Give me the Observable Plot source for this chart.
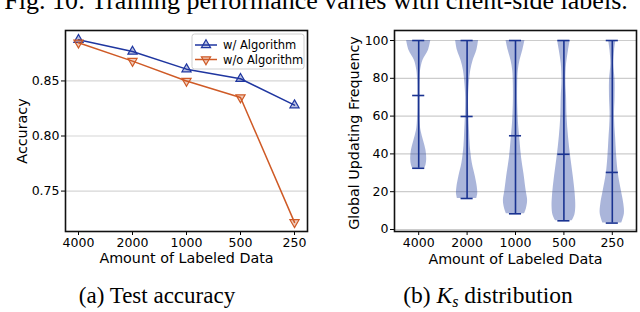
<!DOCTYPE html>
<html><head><meta charset="utf-8">
<script src="https://cdn.jsdelivr.net/npm/d3@7"></script>
<script src="https://cdn.jsdelivr.net/npm/@observablehq/plot@0.6"></script>
<style>
html,body{margin:0;padding:0;background:#fff;width:640px;height:312px;overflow:hidden}
#wrap{position:relative;width:640px;height:312px}
#left{position:absolute;left:0;top:0}
#right{position:absolute;left:320px;top:0}
#cap{position:absolute;left:0;top:0;pointer-events:none}
</style></head>
<body><div id="wrap"><div id="left"></div><div id="right"></div><svg id="cap" width="640" height="312"></svg></div>
<script>
// ---------- data ----------
const sizes = ["4000", "2000", "1000", "500", "250"];
const seriesNames = ["w/ Algorithm", "w/o Algorithm"];
const accWith = [0.8874, 0.8767, 0.8607, 0.852, 0.828];
const accWithout = [0.8847, 0.868, 0.850, 0.835, 0.7216];
const accTicks = [0.75, 0.80, 0.85];

const freqMax = [100, 100, 100, 100, 100];
const freqMin = [32.4, 16.4, 8.3, 4.6, 3.4];
const freqMean = [70.9, 59.8, 49.6, 39.8, 30.2];
const freqTicks = [0, 20, 40, 60, 80, 100];
// violin outlines: [value, relative half-width]
const violin4000 = [[100,1.0],[94.7,0.8],[89.4,0.35],[84,0.15],[80,0.1],[72,0.08],[64,0.08],[56,0.12],[52,0.2],[47,0.4],[42,0.6],[37,0.66],[34,0.6],[32.4,0.5]];
const violin2000 = [[100,0.95],[94.7,0.8],[89.4,0.5],[84,0.3],[77,0.18],[70,0.12],[60,0.14],[52,0.2],[44,0.26],[35,0.43],[28,0.68],[22.5,0.84],[19,0.88],[16.4,0.8]];
const violin1000 = [[100,0.78],[94.7,0.6],[89.4,0.37],[84,0.23],[77,0.18],[66.5,0.18],[56,0.25],[47,0.37],[38,0.5],[29.4,0.7],[20.5,0.88],[15.3,1.0],[11,0.9],[8.3,0.75]];
const violin500 = [[100,0.52],[94.7,0.38],[87.7,0.22],[78.8,0.16],[70,0.22],[59.5,0.26],[49,0.38],[38,0.57],[27.8,0.78],[19,0.93],[12,0.98],[7.6,0.9],[4.6,0.68]];
const violin250 = [[100,0.3],[94.7,0.19],[87.7,0.12],[78.8,0.23],[70,0.23],[59.5,0.18],[49,0.27],[38,0.37],[29.4,0.5],[20.5,0.75],[13.5,0.95],[8.3,1.0],[3.4,0.78]];
const violins = [violin4000, violin2000, violin1000, violin500, violin250];

// ---------- styles ----------
const blue = "#1f36a0", orange = "#cf5a26", vBlue = "#1a3391";
const font = "'DejaVu Sans', sans-serif";
const baseStyle = {fontFamily: font, fontSize: "12.5px", color: "#000", background: "transparent", overflow: "visible"};

const triDown = {draw(context, size) {
  const y = -Math.sqrt(size / (Math.sqrt(3) * 3));
  context.moveTo(0, -y * 2);
  context.lineTo(-Math.sqrt(3) * y, y);
  context.lineTo(Math.sqrt(3) * y, y);
  context.closePath();
}};

// ---------- left chart ----------
const accRows1 = sizes.map((s, i) => ({size: s, acc: accWith[i]}));
const accRows2 = sizes.map((s, i) => ({size: s, acc: accWithout[i]}));

const left = Plot.plot({
  width: 320, height: 270,
  marginLeft: 65, marginRight: 13, marginTop: 30, marginBottom: 39,
  style: baseStyle,
  x: {type: "point", domain: sizes, padding: 0.2},
  y: {domain: [0.7133, 0.8958]},
  marks: [
    Plot.gridY(accTicks, {stroke: "#d6d6d6", strokeOpacity: 1, strokeWidth: 1.2}),
    Plot.axisY({ticks: accTicks, tickFormat: d3.format(".2f"), tickSize: 4, tickPadding: 2, label: null, fontSize: 12.5}),
    Plot.axisX({tickSize: 4, tickPadding: 3, label: null, fontSize: 12.5}),
    Plot.line(accRows1, {x: "size", y: "acc", stroke: blue, strokeWidth: 1.5}),
    Plot.dot(accRows1, {x: "size", y: "acc", symbol: "triangle", r: 3.4, stroke: blue, strokeWidth: 1.2, fill: blue, fillOpacity: 0.3}),
    Plot.line(accRows2, {x: "size", y: "acc", stroke: orange, strokeWidth: 1.5}),
    Plot.dot(accRows2, {x: "size", y: "acc", symbol: triDown, r: 3.4, stroke: orange, strokeWidth: 1.2, fill: orange, fillOpacity: 0.3}),
    Plot.frame({stroke: "#111", strokeWidth: 1.6}),
    Plot.text(["Amount of Labeled Data"], {text: d => d, frameAnchor: "bottom", lineAnchor: "bottom", dy: 31, fontSize: 14.3}),
    Plot.text(["Accuracy"], {text: d => d, frameAnchor: "left", textAnchor: "middle", lineAnchor: "middle", dx: -43, rotate: -90, fontSize: 14.3})
  ]
});
document.getElementById("left").appendChild(left);

// legend
{
  const svg = d3.select(left);
  const g = svg.append("g").attr("font-family", font).attr("font-size", 11.5).attr("text-anchor", "start");
  g.append("rect").attr("x", 192).attr("y", 34).attr("width", 112).attr("height", 35)
    .attr("rx", 2.5).attr("fill", "#fff").attr("fill-opacity", 0.85).attr("stroke", "#cfcfcf");
  const items = [
    {name: seriesNames[0], color: blue, sym: d3.symbolTriangle, y: 45},
    {name: seriesNames[1], color: orange, sym: triDown, y: 59.5}
  ];
  items.forEach(it => {
    g.append("line").attr("x1", 195).attr("x2", 217).attr("y1", it.y).attr("y2", it.y)
      .attr("stroke", it.color).attr("stroke-width", 1.5);
    g.append("path").attr("d", d3.symbol(it.sym, Math.PI * 3.4 * 3.4)())
      .attr("transform", `translate(206,${it.y})`)
      .attr("fill", it.color).attr("fill-opacity", 0.3).attr("stroke", it.color).attr("stroke-width", 1.2);
    g.append("text").attr("x", 223).attr("y", it.y).attr("dy", "0.35em").attr("text-anchor", "start").text(it.name);
  });
}

// ---------- right chart ----------
const violinRows = [];
violins.forEach((prof, i) => prof.forEach(([v, w]) => violinRows.push({cat: sizes[i], v, x1: i + 1 - 0.25 * w, x2: i + 1 + 0.25 * w})));
const stats = sizes.map((s, i) => ({cat: s, pos: i + 1, min: freqMin[i], max: freqMax[i], mean: freqMean[i]}));
const caps = [];
stats.forEach(d => [d.min, d.max, d.mean].forEach(y => caps.push({y, x1: d.pos - 0.125, x2: d.pos + 0.125})));

const right = Plot.plot({
  width: 320, height: 270,
  marginLeft: 74, marginRight: 4, marginTop: 30, marginBottom: 39,
  style: baseStyle,
  x: {domain: [0.5, 5.5]},
  y: {domain: [-1.06, 105.3]},
  marks: [
    Plot.gridY(freqTicks, {stroke: "#cccccc", strokeOpacity: 1, strokeWidth: 1.2}),
    Plot.areaX(violinRows, {y: "v", x1: "x1", x2: "x2", z: "cat", fill: "#2b45a3", fillOpacity: 0.4, curve: "catmull-rom"}),
    Plot.ruleX(stats, {x: "pos", y1: "min", y2: "max", stroke: vBlue, strokeWidth: 1.6}),
    Plot.ruleY(caps, {y: "y", x1: "x1", x2: "x2", stroke: vBlue, strokeWidth: 1.6}),
    Plot.axisX({ticks: [1, 2, 3, 4, 5], tickFormat: i => sizes[i - 1], tickSize: 4, tickPadding: 3, label: null, fontSize: 12.5}),
    Plot.axisY({ticks: freqTicks, tickFormat: d3.format("d"), tickSize: 4, tickPadding: 2, label: null, fontSize: 12.5}),
    Plot.frame({stroke: "#111", strokeWidth: 1.6}),
    Plot.text(["Amount of Labeled Data"], {text: d => d, frameAnchor: "bottom", lineAnchor: "bottom", dy: 32, fontSize: 14.3}),
    Plot.text(["Global Updating Frequency"], {text: d => d, frameAnchor: "left", textAnchor: "middle", lineAnchor: "middle", dx: -40.5, dy: 2, rotate: -90, fontSize: 14.3})
  ]
});
document.getElementById("right").appendChild(right);

// ---------- captions ----------
{
  const cap = d3.select("#cap");
  const serif = "'Liberation Serif', 'Times New Roman', serif";
  const top = cap.append("text").attr("x", 316).attr("y", 8.5).attr("text-anchor", "middle")
    .attr("font-family", serif).attr("font-size", 23)
    .text("Fig. 10: Training performance varies with client-side labels.");
  const w = top.node().getComputedTextLength();
  if (w > 0) top.attr("font-size", 23 * 624 / w);
  cap.append("text").attr("x", 157).attr("y", 303).attr("text-anchor", "middle")
    .attr("font-family", serif).attr("font-size", 23).text("(a) Test accuracy");
  const b = cap.append("text").attr("x", 488).attr("y", 303).attr("text-anchor", "middle")
    .attr("font-family", serif).attr("font-size", 23.5);
  b.append("tspan").text("(b) ");
  b.append("tspan").attr("font-style", "italic").text("K");
  b.append("tspan").attr("font-style", "italic").attr("font-size", 16).attr("dy", 4).text("s");
  b.append("tspan").attr("dy", -4).text(" distribution");
}
</script>
</body></html>
